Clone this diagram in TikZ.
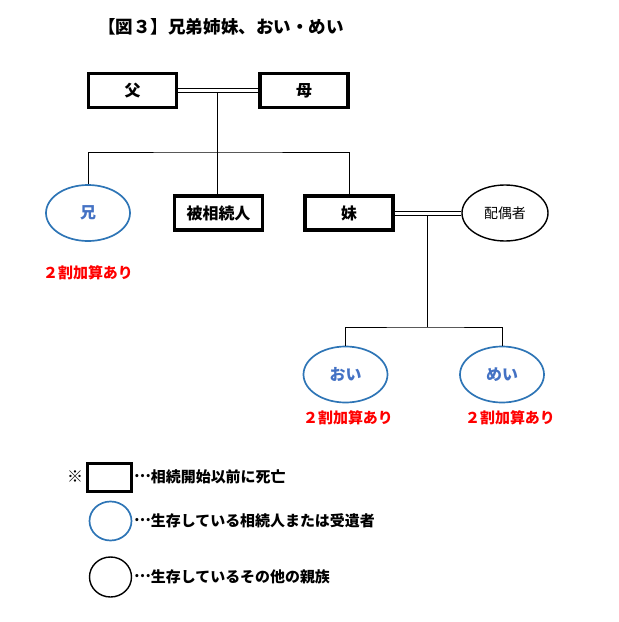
\documentclass[tikz,border=0pt]{standalone}
\usepackage{fontspec}
\setmainfont{Noto Sans CJK JP}
\usetikzlibrary{shapes.geometric}
\definecolor{ringblue}{RGB}{46,117,182}
\definecolor{nameblue}{RGB}{68,114,196}
\newcommand{\middots}{\raisebox{0.32em}{…}}
\begin{document}
\begin{tikzpicture}[x=1bp,y=-1bp,
	dead/.style={draw,line width=3.2bp,minimum width=88bp,minimum height=34bp,inner sep=0pt,
	font=\fontsize{16}{16}\selectfont\bfseries},
	heir/.style={ellipse,draw=ringblue,line width=1.7bp,minimum width=84bp,minimum height=56bp,
	inner sep=0pt,text=nameblue,font=\fontsize{16}{16}\selectfont\bfseries},
	kin/.style={ellipse,draw,line width=1.4bp,minimum width=86bp,minimum height=56bp,inner sep=0pt,
	font=\fontsize{14}{14}\selectfont},
	addnote/.style={text=red,font=\fontsize{15}{15}\selectfont\bfseries},
	tie/.style={double,double distance=3bp,line width=1bp},
	legtext/.style={anchor=west,inner sep=0pt,font=\fontsize{15}{15}\selectfont\bfseries}]
	\useasboundingbox (0,0) rectangle (619,622);
	\node[font=\fontsize{17.6}{18}\selectfont\bfseries] (title) at (221,27) {【図３】兄弟姉妹、おい・めい};
	% parents
	\node[dead] (fu) at (132.5,90.5) {父};
	\node[dead] (bo) at (304,90.5) {母};
	\draw[tie] (fu) -- (bo);
	\coordinate (pm) at (217,92.5);
	\coordinate (bar) at (217,152);
	% children
	\node[heir] (ani) at (88,213) {兄};
	\node[dead] (hi) at (218.5,213) {被相続人};
	\node[dead] (imo) at (349,213) {妹};
	\node[kin] (hai) at (505,213) {配偶者};
	\draw (pm) -- (pm |- hi.north);
	\draw (ani.north) |- (bar) -| (imo.north);
	\node[addnote] (ani2) at (88,273) {２割加算あり};
	% nephew and niece
	\draw[tie] (imo) -- (hai);
	\coordinate (sm) at (427,215);
	\coordinate (bar2) at (427,327);
	\node[heir] (oi) at (345.5,374.5) {おい};
	\node[heir] (mei) at (502,374.5) {めい};
	\draw (sm) -- (bar2);
	\draw (oi.north) |- (bar2) -| (mei.north);
	\node[addnote] (oi2) at (348,418) {２割加算あり};
	\node[addnote] (mei2) at (510,418) {２割加算あり};
	% legend
	\node[font=\fontsize{16}{16}\selectfont] (mark) at (75,477) {※};
	\node[draw,line width=3.2bp,minimum width=44bp,minimum height=28bp,inner sep=0pt] (kd) at (109.5,477.5) {};
	\node[ellipse,draw=ringblue,line width=1.7bp,minimum width=42bp,minimum height=39bp,inner sep=0pt] (kh) at (110.5,521) {};
	\node[ellipse,draw,line width=1.4bp,minimum width=42bp,minimum height=40bp,inner sep=0pt] (kk) at (110.5,577) {};
	\node[legtext] (kdt) at (134,477) {\middots 相続開始以前に死亡};
	\node[legtext] (kht) at (134,521) {\middots 生存している相続人または受遺者};
	\node[legtext] (kkt) at (134,577) {\middots 生存しているその他の親族};
\end{tikzpicture}
\end{document}
